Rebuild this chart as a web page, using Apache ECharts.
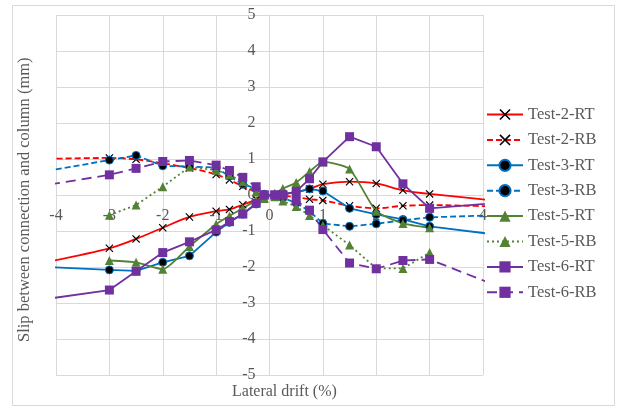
<!DOCTYPE html>
<html>
<head>
<meta charset="utf-8">
<script src="https://cdn.jsdelivr.net/npm/echarts@6/dist/echarts.min.js"></script>
<style>
  html, body { margin: 0; padding: 0; background: #fff; }
  #chart { width: 617px; height: 410px; }
</style>
</head>
<body>
<div id="chart"></div>
<script>
  // drift steps (%), the ±5 points only carry the line out to the plot edge
  const drift = [-5, -3, -2.5, -2, -1.5, -1, -0.75, -0.5, -0.25, -0.1, 0.1, 0.25, 0.5, 0.75, 1, 1.5, 2, 2.5, 3, 5];

  const test2RT = [-2.12, -1.48, -1.22, -0.91, -0.61, -0.45, -0.40, -0.27, -0.12, 0, 0, 0.02, 0.08, 0.17, 0.30, 0.37, 0.32, 0.13, 0.03, -0.27];
  const test2RB = [0.97, 1.03, 0.99, 0.88, 0.75, 0.57, 0.42, 0.24, 0.08, 0, 0, -0.02, -0.06, -0.12, -0.15, -0.30, -0.37, -0.30, -0.28, -0.36];
  const test3RT = [-1.94, -2.08, -2.11, -1.87, -1.69, -1.03, -0.76, -0.53, -0.25, -0.02, 0, 0.03, 0.08, 0.17, 0.11, -0.37, -0.54, -0.68, -0.87, -1.24];
  const test3RB = [0.45, 0.97, 1.10, 0.81, 0.79, 0.76, 0.52, 0.30, 0.18, 0.02, 0, -0.08, -0.22, -0.45, -0.79, -0.87, -0.80, -0.70, -0.62, -0.53];
  const test5RT = [null, -1.82, -1.87, -2.06, -1.43, -0.81, -0.58, -0.37, -0.15, -0.10, 0.05, 0.18, 0.35, 0.65, 0.92, 0.72, -0.45, -0.79, -0.91, null];
  const test5RB = [null, -0.56, -0.28, 0.23, 0.78, 0.69, 0.56, 0.37, 0.08, -0.08, -0.05, -0.17, -0.32, -0.57, -0.84, -1.39, -2.04, -2.04, -1.60, null];
  const test6RT = [-3.06, -2.64, -2.12, -1.60, -1.30, -0.97, -0.74, -0.53, -0.23, 0, 0, 0, 0.10, 0.45, 0.92, 1.62, 1.34, 0.31, -0.37, -0.13];
  const test6RB = [0.08, 0.56, 0.74, 0.93, 0.96, 0.83, 0.68, 0.49, 0.23, 0, 0, 0, -0.15, -0.42, -0.96, -1.89, -2.05, -1.82, -1.79, -2.95];

  const xTicks = { min: -4, max: 4, step: 1 };
  const yTicks = { min: -5, max: 5, step: 1 };

  const font = 'Liberation Serif';
  const grey = '#595959';
  const gridColor = '#d9d9d9';

  const red = '#ff0000', blue = '#0070c0', green = '#548235', purple = '#7030a0';
  const cross = 'path://M0,1L1,0L5,4L9,0L10,1L6,5L10,9L9,10L5,6L1,10L0,9L4,5Z';

  // plot box, axes cross in the middle of it (at 0,0)
  const plot = { left: 56, right: 134, top: 15, bottom: 35, width: 427, height: 360 };

  function pts(ys) {
    return drift.map((x, i) => [x, ys[i]]);
  }

  function line(name, ys, color, dash, symbol, opts) {
    opts = opts || {};
    return {
      name: name,
      type: 'line',
      data: pts(ys),
      smooth: opts.smooth || false,
      symbol: symbol,
      symbolSize: opts.size || 8,
      clip: true,
      lineStyle: { color: color, width: 1.8, type: dash, cap: 'butt' },
      itemStyle: {
        color: opts.fill || color,
        borderColor: opts.border || color,
        borderWidth: opts.border ? 1 : 0
      },
      emphasis: { disabled: true }
    };
  }

  const chart = echarts.init(document.getElementById('chart'));
  chart.setOption({
    animation: false,
    textStyle: { fontFamily: font },
    grid: { left: plot.left, right: plot.right, top: plot.top, bottom: plot.bottom },
    graphic: [
      {
        type: 'rect',
        shape: { x: 12.5, y: 5.5, width: 602, height: 400 },
        style: { fill: 'none', stroke: gridColor, lineWidth: 1 },
        silent: true
      },
      {
        type: 'text',
        left: 232, top: 384,
        style: { text: 'Lateral drift (%)', font: '16px "Liberation Serif"', fill: grey }
      },
      {
        type: 'text',
        rotation: Math.PI / 2,
        x: 16, y: 342,
        style: { text: 'Slip between connection and column (mm)', font: '16.5px "Liberation Serif"', fill: grey }
      }
    ],
    xAxis: {
      type: 'value',
      min: xTicks.min, max: xTicks.max, interval: xTicks.step,
      position: 'bottom',
      offset: -plot.height / 2,
      axisLine: { onZero: false, lineStyle: { color: gridColor } },
      axisTick: { show: false },
      axisLabel: { color: grey, fontSize: 16, fontFamily: font, margin: 13 },
      splitLine: { lineStyle: { color: gridColor, width: 1 } }
    },
    yAxis: {
      type: 'value',
      min: yTicks.min, max: yTicks.max, interval: yTicks.step,
      position: 'left',
      offset: -plot.width / 2,
      axisLine: { show: true, onZero: false, lineStyle: { color: gridColor } },
      axisTick: { show: false },
      axisLabel: { color: grey, fontSize: 16, fontFamily: font, margin: 14 },
      splitLine: { lineStyle: { color: gridColor, width: 1 } }
    },
    legend: {
      orient: 'vertical',
      left: 481, top: 101,
      itemWidth: 36, itemHeight: 14,
      itemGap: 8.4,
      textStyle: { color: grey, fontSize: 16.5, fontFamily: font },
      data: ['Test-2-RT', 'Test-2-RB', 'Test-3-RT', 'Test-3-RB', 'Test-5-RT', 'Test-5-RB', 'Test-6-RT', 'Test-6-RB']
    },
    series: [
      line('Test-2-RT', test2RT, red, 'solid', cross, { smooth: 0.3, size: 8, fill: '#000' }),
      line('Test-2-RB', test2RB, red, [6, 3], cross, { smooth: 0.3, size: 8, fill: '#000' }),
      line('Test-3-RT', test3RT, blue, 'solid', 'circle', { fill: '#000', border: blue }),
      line('Test-3-RB', test3RB, blue, [6, 3], 'circle', { fill: '#000', border: blue }),
      line('Test-5-RT', test5RT, green, 'solid', 'triangle', { smooth: 0.2, size: 9 }),
      line('Test-5-RB', test5RB, green, [2, 3], 'triangle', { size: 9 }),
      line('Test-6-RT', test6RT, purple, 'solid', 'rect', { size: 9 }),
      line('Test-6-RB', test6RB, purple, [10, 6], 'rect', { size: 9 })
    ]
  });
</script>
</body>
</html>
